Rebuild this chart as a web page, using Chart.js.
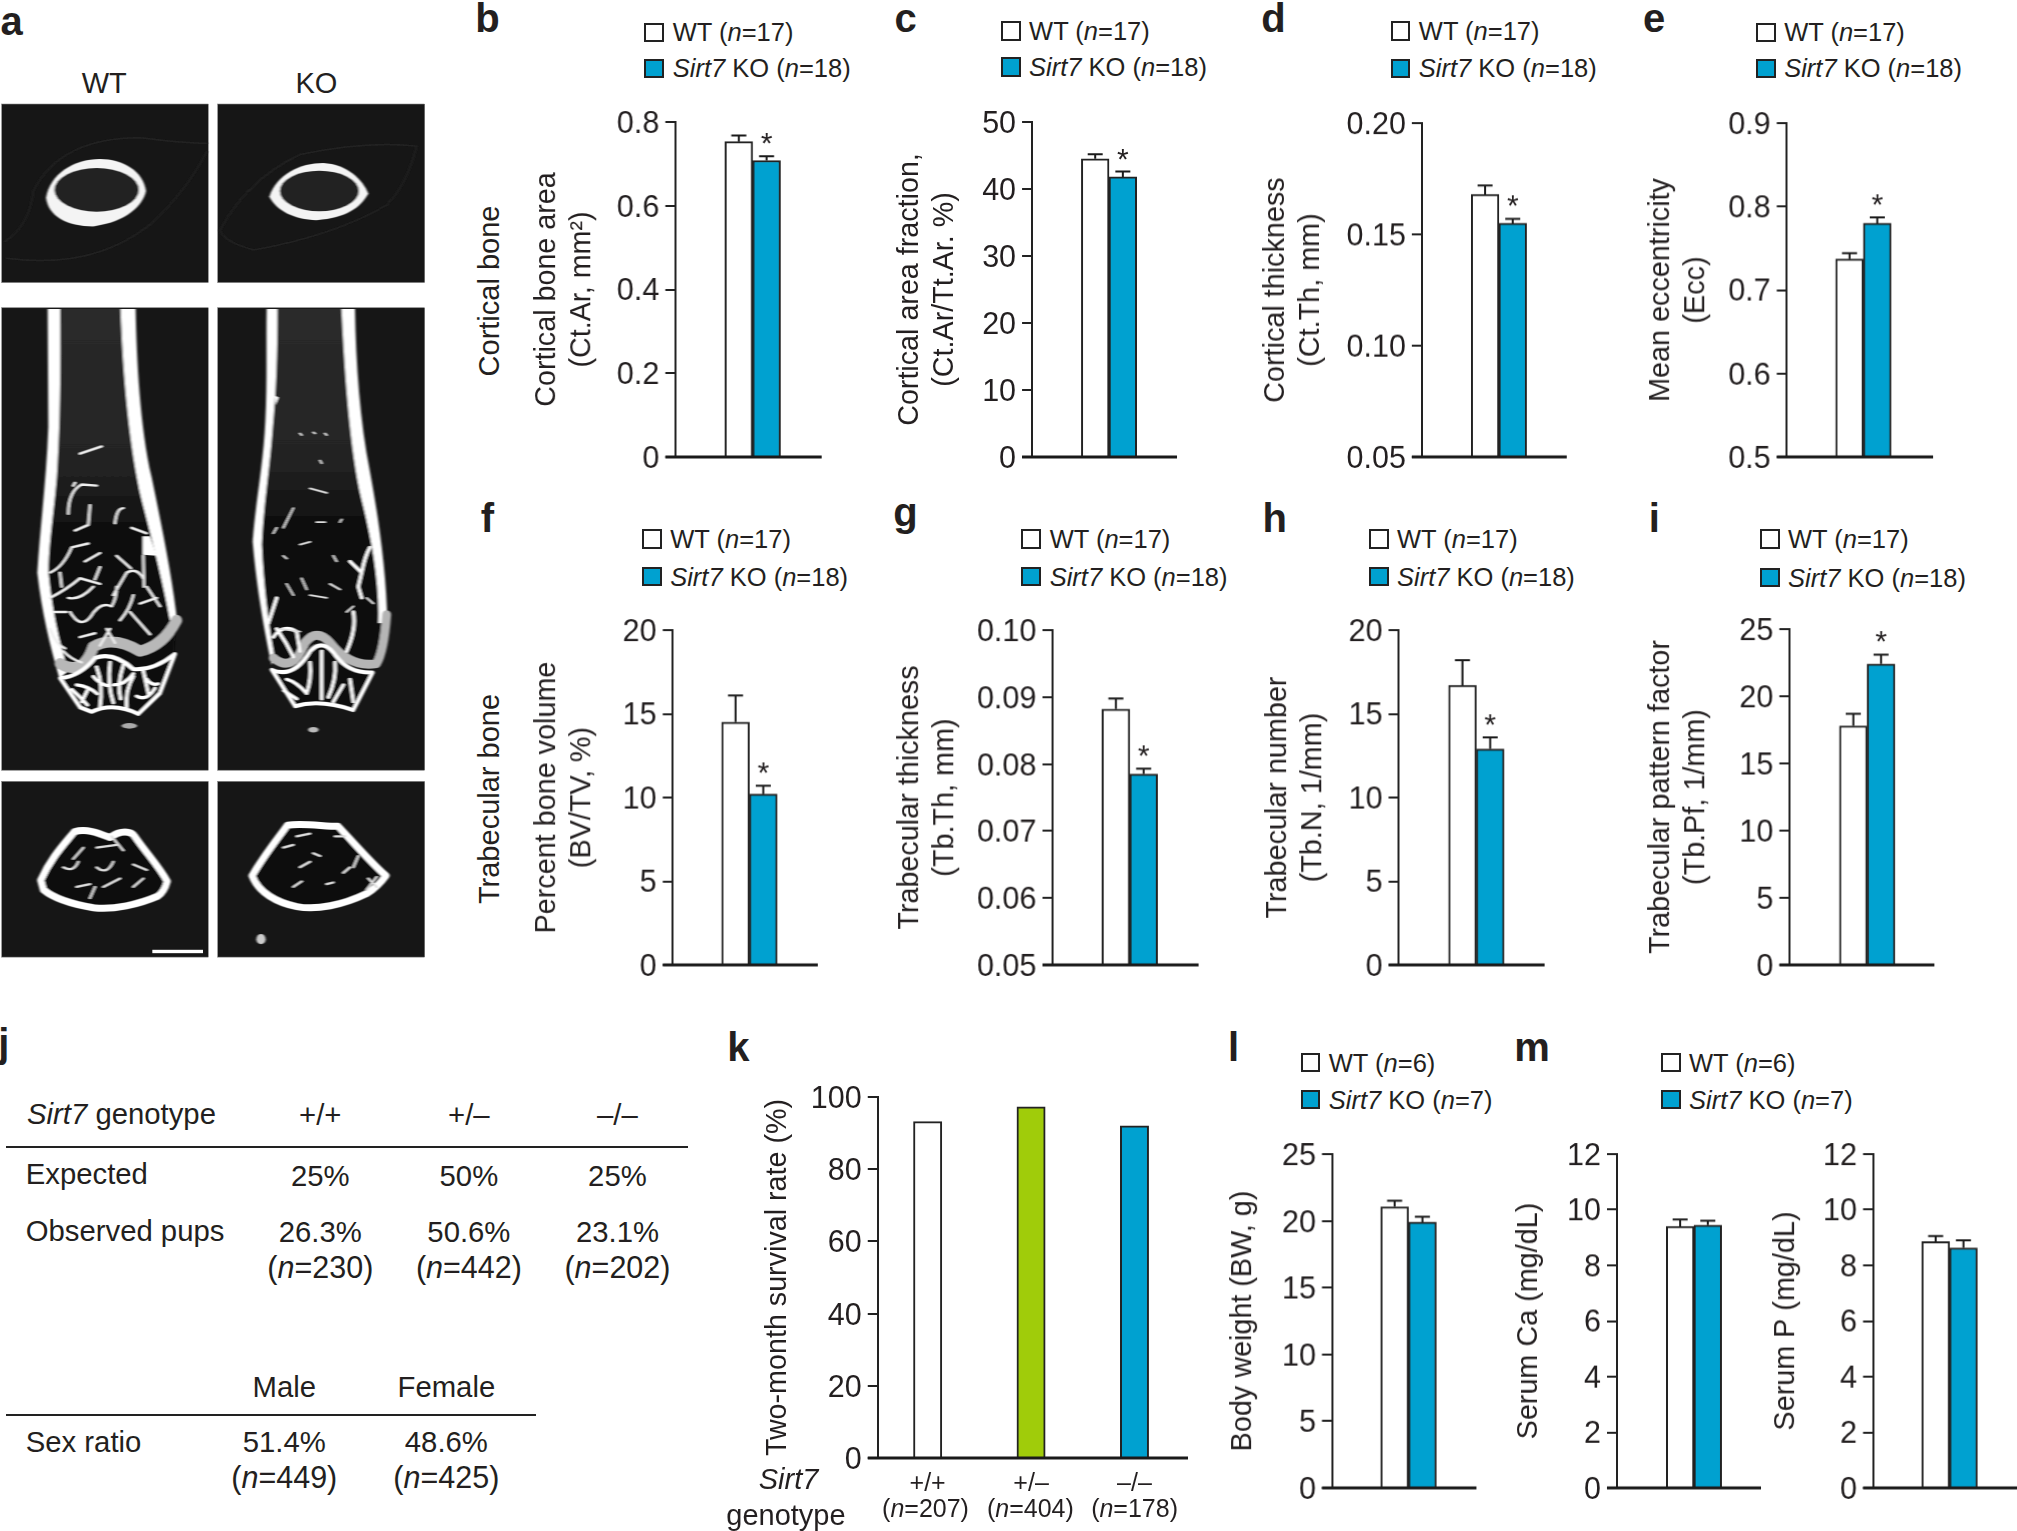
<!DOCTYPE html>
<html><head><meta charset="utf-8">
<script src="https://cdn.jsdelivr.net/npm/chart.js@4"></script>
<style>
html,body{margin:0;padding:0;background:#fff;width:2017px;height:1531px;overflow:hidden}
body{position:relative;font-family:"Liberation Sans",Arial,sans-serif;color:#231f20}
canvas{position:absolute}
.t{position:absolute;white-space:nowrap;line-height:1}
.sw{position:absolute;box-sizing:border-box;border:2px solid #222}
.hr{position:absolute;height:2px;background:#222}
i{font-style:italic}
#micro path{vector-effect:non-scaling-stroke;stroke-linecap:round;stroke-linejoin:round}
</style></head><body>
<svg id="micro" style="position:absolute;left:0;top:90px" width="440" height="880" viewBox="0 0 1320 1568" preserveAspectRatio="none">
<defs>
<filter id="bl" x="-5%" y="-5%" width="110%" height="110%"><feGaussianBlur stdDeviation="2.4 1.4"/></filter>
<linearGradient id="mw" x1="0" y1="0" x2="0" y2="1"><stop offset="0" stop-color="#2a2a2a"/><stop offset="0.42" stop-color="#242424"/><stop offset="0.62" stop-color="#0d0d0d"/><stop offset="1" stop-color="#0a0a0a"/></linearGradient>
</defs>
<g fill="#161616" stroke="#777" stroke-width="1">
<rect x="5" y="25" width="620" height="318"/><rect x="653" y="25" width="621" height="318"/>
<rect x="5" y="388" width="620" height="824"/><rect x="653" y="388" width="621" height="824"/>
<rect x="5" y="1232" width="620" height="313"/><rect x="653" y="1232" width="621" height="313"/>
</g>
<g filter="url(#bl)">
<g fill="none" stroke="#232323" stroke-width="1.5">
<path d="M15,270 Q90,240 100,180 Q180,85 420,85 Q560,95 620,95"/>
<path d="M20,300 Q280,320 450,240 Q560,180 620,110"/>
<path d="M660,250 Q740,160 900,115 Q1100,90 1250,100 Q1220,170 1160,205 Q1000,260 760,285 Q670,270 660,250"/>
</g>
<!-- upper rings -->
<path d="M138,192 C150,150 220,123 300,123 C370,123 430,145 438,180 C430,205 380,235 280,243 C200,243 145,225 138,192Z" fill="#f4f4f4"/>
<ellipse cx="290" cy="178" rx="127" ry="39" fill="#222"/>
<path d="M808,190 C830,150 900,130 970,130 C1040,132 1090,160 1105,185 C1080,210 1040,228 950,232 C880,230 830,215 808,190Z" fill="#f4f4f4"/>
<ellipse cx="958" cy="180" rx="119" ry="36" fill="#222"/>
<!-- WT longitudinal -->
<path d="M178,390 L362,390 C370,520 390,620 430,720 C470,820 520,900 528,950 L520,1010 L400,1040 L285,1020 L180,1045 C150,980 125,920 112,860 C125,760 150,650 150,560Z" fill="url(#mw)"/>
<path d="M143,390 L180,390 C182,500 180,600 170,690 C160,760 145,810 145,860 C155,920 175,980 205,1035 L178,1048 C150,990 125,930 112,860 C120,780 140,690 145,600Z" fill="#fff"/>
<path d="M362,390 L407,390 C410,480 420,600 455,690 C490,790 520,880 532,950 L510,945 C490,880 460,810 425,730 C390,640 370,520 362,390Z" fill="#fff"/>
<path d="M428,795 L450,795 L470,830 L428,828Z" fill="#fff"/>
<path d="M180,1022 Q250,1045 280,992 Q340,972 420,1000 Q490,990 530,945" fill="none" stroke="#b8b8b8" stroke-width="11"/>
<path d="M180,1048 Q240,1045 285,1012 Q340,1000 400,1032 Q460,1035 525,1005 L480,1075 L415,1112 Q340,1090 275,1108 L240,1100Z" fill="#090909" stroke="#fff" stroke-width="4"/>
<g fill="none" stroke="#fff" stroke-width="3.2">
<path d="M290,1028 Q310,1060 300,1100 M330,1020 Q322,1060 340,1092 M370,1025 Q350,1060 362,1085 M230,1060 Q265,1062 292,1076 M400,1045 Q375,1070 380,1100 M440,1050 Q455,1062 475,1058 M410,1080 Q440,1090 465,1066 M215,1068 Q240,1080 262,1096 M280,1045 Q300,1060 330,1062 M340,1060 Q375,1060 400,1040 M262,1070 L245,1090 M430,1035 L445,1075"/>
</g>
<g fill="none" stroke="#eee" stroke-width="2.4">
<path d="M205,755 Q205,715 245,703 L290,705 M270,740 L265,775 L225,785 M345,772 Q350,745 370,745 M150,860 Q190,850 215,815 L265,808 M285,872 L300,850 M150,905 Q200,890 240,870 L300,880 M340,900 L380,860 Q410,850 430,870 M210,930 Q240,960 270,940 Q300,910 335,920 Q350,905 350,885 M430,830 L432,885 M390,930 Q420,950 450,970 M150,960 Q170,990 195,995 M240,975 L285,968 M180,860 L185,885 M440,885 L480,920 M240,648 L305,635 M205,905 Q240,910 280,885 M350,830 L392,852 M190,1000 Q215,1015 245,1020 M320,960 L345,985 M160,930 L200,930 M360,945 Q390,925 400,900 M255,840 L300,825 M395,780 L440,790 M300,990 L330,960 M420,915 L470,905 M220,705 L225,700"/>
</g>
<!-- KO longitudinal -->
<path d="M832,390 L1028,390 C1040,520 1060,630 1100,750 C1125,820 1150,880 1160,950 L1130,1025 L1020,1010 L965,975 L905,1005 L820,1020 C795,960 770,890 758,800 C775,730 800,650 805,560Z" fill="url(#mw)"/>
<path d="M800,390 L832,390 C832,470 828,540 818,600 C808,680 790,740 785,810 C790,880 805,950 822,1005 L815,1025 C795,970 770,890 758,805 C765,740 790,670 796,590 C802,520 798,450 800,390Z" fill="#fff"/>
<path d="M825,545 L836,548 L826,562Z" fill="#fff"/>
<path d="M1025,390 L1065,390 C1068,490 1080,590 1110,680 C1135,760 1160,860 1162,950 L1135,950 C1140,880 1115,800 1085,730 C1050,640 1035,510 1025,390Z" fill="#fff"/>
<path d="M820,1012 Q880,1040 915,985 Q950,958 990,985 Q1050,1030 1130,1022 Q1152,1000 1160,935" fill="none" stroke="#b5b5b5" stroke-width="9"/>
<path d="M815,1033 Q880,1050 930,1000 Q970,975 1010,1010 Q1050,1040 1118,1038 L1060,1105 Q960,1085 885,1098Z" fill="#090909" stroke="#fff" stroke-width="4"/>
<g fill="none" stroke="#fff" stroke-width="3.2">
<path d="M965,1000 L965,1085 M930,1020 Q935,1050 920,1075 M1005,1020 Q1010,1050 985,1082 M860,1050 Q890,1055 920,1075 M1030,1060 L1000,1090 M1050,1050 L1060,1090 M850,1070 L890,1085 M1060,930 Q1070,960 1040,1000 M1050,840 L1085,860 Q1095,830 1110,815 M1085,860 L1075,885 L1085,905 M830,960 Q860,985 880,1010 M805,950 L830,905 M820,975 Q850,950 890,965 L900,1000"/>
</g>
<g fill="none" stroke="#ddd" stroke-width="1.8">
<path d="M930,710 L980,718 M850,780 L880,745 M820,790 L830,780 M900,810 L930,805 M950,770 L975,770 M850,830 L860,835 M905,870 L920,890 M930,900 L980,905 M840,960 L900,965 M900,612 L905,615 M1020,770 L1025,765 M1000,830 L1010,840 M960,660 L965,665 M940,610 L945,612 M975,612 L980,615 M1040,930 L1060,920 M1100,905 L1120,915 M990,880 L1020,890 M860,880 L880,900"/>
</g>
<!-- lower cross-sections -->
<path d="M122,1408 C150,1370 190,1345 222,1322 C260,1315 300,1325 330,1332 C360,1318 395,1320 405,1330 C440,1360 480,1385 502,1410 C495,1425 485,1432 475,1436 C420,1450 340,1462 280,1457 C210,1450 160,1440 130,1425 Z" fill="#0c0c0c" stroke="#fff" stroke-width="7"/>
<path d="M756,1400 C790,1365 830,1335 862,1310 C910,1306 970,1312 1015,1312 C1060,1340 1110,1375 1158,1400 C1140,1415 1120,1425 1100,1432 C1030,1452 950,1462 890,1455 C830,1448 775,1430 756,1400Z" fill="#0c0c0c" stroke="#fff" stroke-width="7"/>
<g fill="none" stroke="#ddd" stroke-width="2.2">
<path d="M190,1385 Q220,1395 235,1375 M290,1385 Q320,1400 340,1375 M230,1420 L270,1415 M290,1350 L350,1345 M400,1380 L440,1390 M335,1330 L370,1355 M270,1440 L285,1420 M250,1350 L220,1370 M310,1420 L360,1405 M400,1420 L430,1405 M850,1350 L880,1345 M890,1330 L930,1325 M880,1420 L905,1410 M980,1415 L1000,1412 M1060,1385 L1075,1365 M1100,1425 L1130,1402 M900,1385 L930,1375 M1005,1330 L1035,1330 M1105,1405 L1130,1420 M940,1360 L960,1365 M1030,1395 L1050,1385"/>
</g>
<ellipse cx="388" cy="1133" rx="24" ry="5" fill="#aaa"/><ellipse cx="940" cy="1140" rx="16" ry="5" fill="#bbb"/>
<ellipse cx="783" cy="1513" rx="14" ry="9" fill="#ccc"/>
</g>
<rect x="457" y="1532" width="152" height="6" fill="#fff"/>
</svg>
<script>
const S = 2017 / 1568;
const INK = '#231f20';
const KO_BLUE = '#00a1d0';
const HET_GREEN = '#a0cc0a';
const FONT = '"Liberation Sans", Arial, sans-serif';

// ---------- values ----------
const barSeries = ['WT', 'Sirt7 KO'];

const ctArValues = [0.753, 0.708];
const ctArErrTops = [0.768, 0.718];
const ctArTicks = ['0', '0.2', '0.4', '0.6', '0.8'];

const ctFracValues = [44.5, 41.8];
const ctFracErrTops = [45.2, 42.6];
const ctFracTicks = ['0', '10', '20', '30', '40', '50'];

const ctThValues = [0.168, 0.155];
const ctThErrTops = [0.172, 0.157];
const ctThTicks = ['0.05', '0.10', '0.15', '0.20'];

const eccValues = [0.737, 0.780];
const eccErrTops = [0.744, 0.787];
const eccTicks = ['0.5', '0.6', '0.7', '0.8', '0.9'];

const bvtvValues = [14.5, 10.2];
const bvtvErrTops = [16.1, 10.7];
const bvtvTicks = ['0', '5', '10', '15', '20'];

const tbThValues = [0.0882, 0.0785];
const tbThErrTops = [0.0898, 0.0793];
const tbThTicks = ['0.05', '0.06', '0.07', '0.08', '0.09', '0.10'];

const tbNValues = [16.7, 12.9];
const tbNErrTops = [18.2, 13.6];
const tbNTicks = ['0', '5', '10', '15', '20'];

const tbPfValues = [17.8, 22.4];
const tbPfErrTops = [18.7, 23.1];
const tbPfTicks = ['0', '5', '10', '15', '20', '25'];

const bwValues = [21.05, 19.9];
const bwErrTops = [21.5, 20.3];
const bwTicks = ['0', '5', '10', '15', '20', '25'];

const caValues = [9.4, 9.45];
const caErrTops = [9.65, 9.6];
const caTicks = ['0', '2', '4', '6', '8', '10', '12'];

const pValues = [8.85, 8.63];
const pErrTops = [9.05, 8.9];
const pTicks = ['0', '2', '4', '6', '8', '10', '12'];

const survivalCategories = ['+/+', '+/\u2013', '\u2013/\u2013'];
const survivalValues = [93.2, 97.3, 92.0];
const survivalTicks = ['0', '20', '40', '60', '80', '100'];

// ---------- shared drawing ----------
const TITLE_LH = 35;
const axisPlugin = (baseEnd, errTops, marked) => ({
  id: 'axisExtras',
  afterDatasetsDraw(chart) {
    const y = chart.scales.y, ctx = chart.ctx;
    ctx.save();
    ctx.strokeStyle = '#1a1a1a';
    if (errTops) {
      errTops.forEach((top, i) => {
        const bar = chart.getDatasetMeta(i).data[0];
        const py = y.getPixelForValue(top);
        ctx.lineWidth = 2;
        ctx.beginPath();
        ctx.moveTo(bar.x, bar.y); ctx.lineTo(bar.x, py);
        ctx.moveTo(bar.x - 7.5, py); ctx.lineTo(bar.x + 7.5, py);
        ctx.stroke();
        if (marked && marked[i]) {
          ctx.fillStyle = INK;
          ctx.font = '30px ' + FONT;
          ctx.textAlign = 'center';
          ctx.textBaseline = 'alphabetic';
          ctx.fillText('*', bar.x, py - 3);
        }
      });
    }
    const by = y.getPixelForValue(y.min);
    ctx.lineWidth = 3;
    ctx.beginPath();
    ctx.moveTo(y.right - 10, by); ctx.lineTo(baseEnd * S - chart.canvas.offsetLeft, by);
    ctx.stroke();
    ctx.restore();
  }
});

function yScale(tickStrs, title, axisPx, leftPx) {
  const nums = tickStrs.map(Number);
  return {
    min: nums[0], max: nums[nums.length - 1],
    afterBuildTicks: ax => { ax.ticks = nums.map(v => ({ value: v })); },
    afterFit: ax => { ax.width = axisPx - leftPx; },
    ticks: {
      autoSkip: false, color: INK, padding: 6, labelOffset: 2.5,
      font: { family: FONT, size: 30.5 },
      callback: (v) => tickStrs[nums.indexOf(v)]
    },
    grid: { drawOnChartArea: false, drawTicks: true, tickLength: 10, color: '#222', lineWidth: 2 },
    border: { display: true, color: '#222', width: 2 },
    title: {
      display: true, text: title, color: INK, padding: 0,
      font: { family: FONT, size: 28.7, lineHeight: TITLE_LH / 28.7 }
    }
  };
}

function placeCanvas(left, top, w, h) {
  const c = document.createElement('canvas');
  c.width = w; c.height = h;
  c.style.cssText = `left:${left}px;top:${top}px;width:${w}px;height:${h}px`;
  document.body.appendChild(c);
  return c;
}

// All positions below are in the reference's 1568-wide display units, scaled by S.
function groupedPanel(values, errTops, ticks, title, marked, g) {
  const left = g.titleX * S - TITLE_LH / 2;
  const axisPx = g.axisX * S;
  const pad = 30;
  const topPx = g.top * S, botPx = g.bottom * S;
  const width = 2 * (g.center * S - axisPx) + (axisPx - left);
  const c = placeCanvas(left, topPx - pad, width, botPx - topPx + 2 * pad);
  new Chart(c, {
    type: 'bar',
    data: {
      labels: [''],
      datasets: barSeries.map((name, i) => ({
        label: name, data: [values[i]],
        backgroundColor: i ? KO_BLUE : '#ffffff',
        borderColor: '#222', borderWidth: 2,
        barThickness: 21.5 * S
      }))
    },
    options: {
      responsive: false, animation: false, devicePixelRatio: 1,
      layout: { autoPadding: false, padding: { top: pad, bottom: pad, left: 0, right: 0 } },
      plugins: { legend: { display: false }, tooltip: { enabled: false } },
      scales: { x: { display: false }, y: yScale(ticks, title, axisPx, left) }
    },
    plugins: [axisPlugin(g.baseEnd, errTops, marked)]
  });
}

groupedPanel(ctArValues, ctArErrTops, ctArTicks, ['Cortical bone area', '(Ct.Ar, mm\u00b2)'], [0, 1],
  { titleX: 426, axisX: 525, top: 95, bottom: 355.5, center: 585, baseEnd: 638 });
groupedPanel(ctFracValues, ctFracErrTops, ctFracTicks, ['Cortical area fraction,', '(Ct.Ar/Tt.Ar. %)'], [0, 1],
  { titleX: 707.5, axisX: 802, top: 95, bottom: 355.5, center: 862, baseEnd: 915 });
groupedPanel(ctThValues, ctThErrTops, ctThTicks, ['Cortical thickness', '(Ct.Th, mm)'], [0, 1],
  { titleX: 992, axisX: 1105, top: 96, bottom: 355.5, center: 1165, baseEnd: 1218 });
groupedPanel(eccValues, eccErrTops, eccTicks, ['Mean eccentricity', '(Ecc)'], [0, 1],
  { titleX: 1292, axisX: 1389, top: 96, bottom: 355.5, center: 1448.5, baseEnd: 1502 });
groupedPanel(bvtvValues, bvtvErrTops, bvtvTicks, ['Percent bone volume', '(BV/TV, %)'], [0, 1],
  { titleX: 426, axisX: 523, top: 490, bottom: 750, center: 582.5, baseEnd: 635 });
groupedPanel(tbThValues, tbThErrTops, tbThTicks, ['Trabecular thickness', '(Tb.Th, mm)'], [0, 1],
  { titleX: 708, axisX: 818, top: 490, bottom: 750, center: 878, baseEnd: 931 });
groupedPanel(tbNValues, tbNErrTops, tbNTicks, ['Trabecular number', '(Tb.N, 1/mm)'], [0, 1],
  { titleX: 994, axisX: 1087, top: 490, bottom: 750, center: 1147.5, baseEnd: 1200 });
groupedPanel(tbPfValues, tbPfErrTops, tbPfTicks, ['Trabecular pattern factor', '(Tb.Pf, 1/mm)'], [0, 1],
  { titleX: 1292, axisX: 1391, top: 489, bottom: 750, center: 1451.5, baseEnd: 1503 });
groupedPanel(bwValues, bwErrTops, bwTicks, ['Body weight (BW, g)'], null,
  { titleX: 967, axisX: 1035.5, top: 897, bottom: 1156.5, center: 1095, baseEnd: 1147 });
groupedPanel(caValues, caErrTops, caTicks, ['Serum Ca (mg/dL)'], null,
  { titleX: 1189, axisX: 1257, top: 897, bottom: 1156.5, center: 1317, baseEnd: 1369 });
groupedPanel(pValues, pErrTops, pTicks, ['Serum P (mg/dL)'], null,
  { titleX: 1389, axisX: 1456, top: 897, bottom: 1156.5, center: 1515.5, baseEnd: 1568 });

// survival panel k: a numeric category axis keeps the bars at their unequal margin from the y axis
(function () {
  const left = 605 * S - TITLE_LH / 2, axisPx = 877.5, pad = 30, topPx = 1096.5, botPx = 1458;
  const slot = 80.5 * S, bottomExtra = 50, firstBar = 721 * S;
  const plotW = slot * 3;
  const xMin = 1 - (firstBar - axisPx) / slot;
  const c = placeCanvas(left, topPx - pad, (axisPx - left) + plotW, botPx - topPx + pad + bottomExtra);
  new Chart(c, {
    type: 'bar',
    data: {
      datasets: [{
        label: 'Two-month survival rate',
        data: survivalValues.map((v, i) => ({ x: i + 1, y: v })),
        backgroundColor: ['#ffffff', HET_GREEN, KO_BLUE],
        borderColor: '#222', borderWidth: 2, barThickness: 22 * S
      }]
    },
    options: {
      responsive: false, animation: false, devicePixelRatio: 1,
      layout: { autoPadding: false, padding: { top: pad, bottom: 0, left: 0, right: 0 } },
      plugins: { legend: { display: false }, tooltip: { enabled: false } },
      scales: {
        x: {
          type: 'linear', offset: false, min: xMin, max: xMin + 3,
          grid: { display: false }, border: { display: false },
          afterBuildTicks: ax => { ax.ticks = survivalCategories.map((_, i) => ({ value: i + 1 })); },
          afterFit: ax => { ax.height = bottomExtra; },
          ticks: {
            color: INK, padding: 3, font: { family: FONT, size: 25 }, maxRotation: 0, autoSkip: false,
            callback: v => survivalCategories[v - 1]
          }
        },
        y: yScale(survivalTicks, ['Two-month survival rate (%)'], axisPx, left)
      }
    },
    plugins: [axisPlugin(925.5, null, null)]
  });
})();

// ---------- real text ----------
function txt(x, y, html, o = {}) {
  const d = document.createElement('div');
  d.className = 't';
  d.innerHTML = html;
  const ax = o.anchor === 'l' ? '0' : '-50%';
  const dy = (o.bold || o.rot) ? 0 : 1;
  d.style.cssText = `left:${x * S}px;top:${(y + dy) * S}px;font-size:${o.size || 29.3}px;` +
    `font-weight:${o.bold ? 700 : 400};transform:translate(${ax},-50%)${o.rot ? ' rotate(-90deg)' : ''}`;
  document.body.appendChild(d);
}
function rule(x0, x1, y) {
  const d = document.createElement('div');
  d.className = 'hr';
  d.style.cssText = `left:${x0}px;width:${x1 - x0}px;top:${y}px`;
  document.body.appendChild(d);
}
function legend(x, y1, y2, n1, n2) {
  [[y1, '#fff', `WT (<i>n</i>=${n1})`], [y2, KO_BLUE, `<i>Sirt7</i> KO (<i>n</i>=${n2})`]].forEach(([y, col, label]) => {
    const s = document.createElement('div');
    s.className = 'sw';
    s.style.cssText = `left:${x * S}px;top:${(y - 7.5) * S}px;width:${15.5 * S}px;height:${15 * S}px;background:${col}`;
    document.body.appendChild(s);
    txt(x + 22, y, label, { anchor: 'l', size: 25.5 });
  });
}
[['a', 9, 16], ['b', 379, 14], ['c', 704, 14], ['d', 990, 14], ['e', 1286, 14], ['f', 379, 403], ['g', 704, 398],
 ['h', 991, 403], ['i', 1286, 403], ['j', 3, 811], ['k', 574, 814], ['l', 959, 814], ['m', 1191, 814]]
  .forEach(([s, x, y]) => txt(x, y, s, { size: 40, bold: true }));

txt(81, 63.5, 'WT', { size: 29 });
txt(246, 63.5, 'KO', { size: 29 });
txt(380, 226, 'Cortical bone', { rot: true, size: 29 });
txt(380, 621, 'Trabecular bone', { rot: true, size: 29 });

legend(501, 25, 53, 17, 18);
legend(778, 24, 52, 17, 18);
legend(1081, 24, 53, 17, 18);
legend(1365, 25, 53, 17, 18);
legend(499, 419, 448, 17, 18);
legend(794, 419, 448, 17, 18);
legend(1064, 419, 448, 17, 18);
legend(1368, 419, 449, 17, 18);
legend(1011, 826, 855, 6, 7);
legend(1291, 826, 855, 6, 7);

// table j
const NS = { size: 30.5 };
txt(21, 865, '<i>Sirt7</i> genotype', { anchor: 'l' });
txt(249, 866, '+/+'); txt(364.5, 866, '+/\u2013'); txt(480, 866, '\u2013/\u2013');
rule(6, 688, 1146);
txt(20, 912, 'Expected', { anchor: 'l' });
txt(249, 913, '25%'); txt(364.5, 913, '50%'); txt(480, 913, '25%');
txt(20, 956, 'Observed pups', { anchor: 'l' });
txt(249, 957, '26.3%'); txt(364.5, 957, '50.6%'); txt(480, 957, '23.1%');
txt(249, 984, '(<i>n</i>=230)', NS); txt(364.5, 984, '(<i>n</i>=442)', NS); txt(480, 984, '(<i>n</i>=202)', NS);
txt(221, 1077, 'Male'); txt(347, 1077, 'Female');
rule(6, 536, 1414);
txt(20, 1120, 'Sex ratio', { anchor: 'l' });
txt(221, 1120, '51.4%'); txt(347, 1120, '48.6%');
txt(221, 1147, '(<i>n</i>=449)', NS); txt(347, 1147, '(<i>n</i>=425)', NS);

// panel k extras
txt(613, 1149, '<i>Sirt7</i>', { size: 29 });
txt(611, 1177, 'genotype', { size: 29 });
txt(719.5, 1171, '(<i>n</i>=207)', { size: 25 });
txt(801, 1171, '(<i>n</i>=404)', { size: 25 });
txt(882, 1171, '(<i>n</i>=178)', { size: 25 });
</script>
</body></html>
